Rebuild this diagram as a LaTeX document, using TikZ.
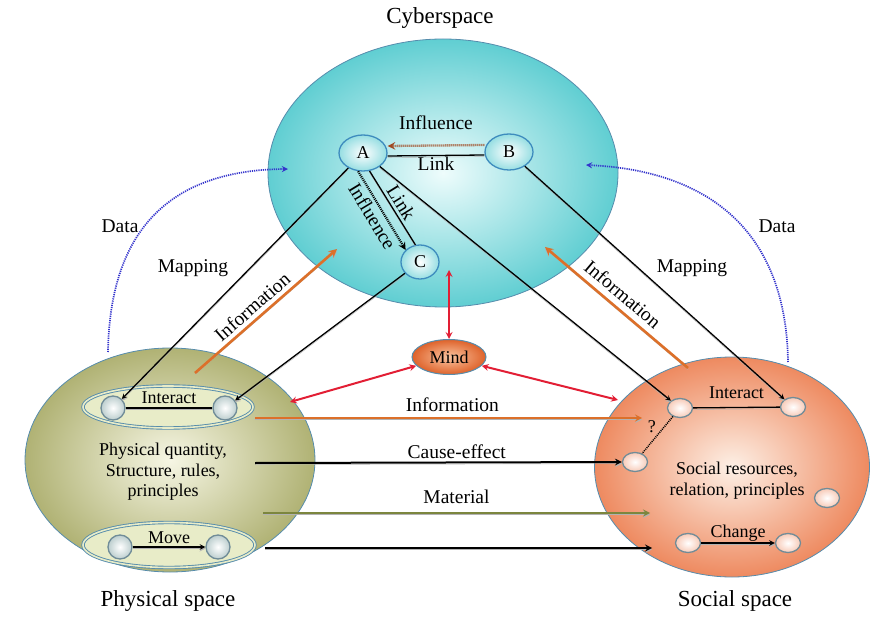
\documentclass[tikz,border=0pt]{standalone}
\usepackage{fontspec}
\setmainfont{Liberation Serif}
\usetikzlibrary{shapes.geometric}

\definecolor{rimblue}{RGB}{86,140,172}
\definecolor{cybin}{RGB}{238,252,252}
\definecolor{cybout}{RGB}{96,206,210}
\definecolor{physin}{RGB}{246,246,228}
\definecolor{physout}{RGB}{176,178,116}
\definecolor{socin}{RGB}{253,240,230}
\definecolor{socout}{RGB}{238,138,96}
\definecolor{agentout}{RGB}{150,222,226}
\definecolor{agentrim}{RGB}{62,140,190}
\definecolor{ballout}{RGB}{188,206,206}
\definecolor{ballrim}{RGB}{112,140,152}
\definecolor{mindin}{RGB}{250,196,160}
\definecolor{mindout}{RGB}{222,98,42}
\definecolor{infoorange}{RGB}{220,112,42}
\definecolor{matgreen}{RGB}{124,134,62}
\definecolor{mindred}{RGB}{226,30,52}
\definecolor{datablue}{RGB}{52,52,204}
\definecolor{inflbrown}{RGB}{160,72,32}
\definecolor{ovalfill}{RGB}{232,236,200}

\tikzset{
	realm/.style={ellipse, draw=rimblue, line width=0.8pt, inner sep=0pt},
	agent/.style={ellipse, draw=agentrim, line width=1.3pt, inner color=white, outer color=agentout, inner sep=0pt, minimum width=48pt, minimum height=36pt, font=\fontsize{18}{18}\selectfont},
	pball/.style={circle, draw=ballrim, line width=1.3pt, inner color=white, outer color=ballout, minimum size=24pt, inner sep=0pt},
	sball/.style={ellipse, draw=ballrim, line width=1.3pt, inner color=white, outer color=socout!45, minimum width=25pt, minimum height=19pt, inner sep=0pt},
	oval/.style={ellipse, draw=rimblue, double=ovalfill, double distance=1.6pt, line width=0.9pt, fill=ovalfill, inner sep=0pt},
	shadowed/.style={preaction={draw=black!30, transform canvas={yshift=-1.6pt}}},
	mapping/.style={->, line width=1.3pt, shadowed},
	flow/.style={->, line width=2pt, shadowed},
	infoarrow/.style={->, line width=2.6pt, draw=infoorange, shadowed},
	mindlink/.style={<->, line width=2pt, draw=mindred},
	datalink/.style={->, line width=1.7pt, draw=datablue, dash pattern=on 1.2pt off 1pt},
	inflink/.style={->, line width=2.3pt, dash pattern=on 1pt off 1pt},
	lbl/.style={font=\fontsize{19.5}{21}\selectfont, inner sep=1pt},
	inlbl/.style={font=\fontsize{18}{20.5}\selectfont, inner sep=1pt, align=center},
	title/.style={font=\fontsize{23}{23}\selectfont, inner sep=1pt}
}

\begin{document}
\begin{tikzpicture}[x=1pt,y=-1pt,>=stealth]

	\useasboundingbox (0,0) rectangle (872,617);

%The three spaces
	\node[realm, minimum width=350pt, minimum height=268pt, inner color=cybin, outer color=cybout] (cyber) at (443,173) {};
	\node[realm, minimum width=290pt, minimum height=224pt, inner color=physin, outer color=physout] (phys) at (170,460) {};
	\node[realm, minimum width=275pt, minimum height=220pt, inner color=socin, outer color=socout] (soc) at (732,467) {};

	\node[title] (cybtitle) at (440,18) {Cyberspace};
	\node[title] (phystitle) at (168,601) {Physical space};
	\node[title] (soctitle) at (735,601) {Social space};

%Agents in cyberspace and the mind
	\node[agent] (A) at (363,153) {A};
	\node[agent] (B) at (509,152) {B};
	\node[agent, minimum width=38pt, minimum height=34pt] (C) at (420,262) {C};
	\node[ellipse, draw=rimblue, line width=1pt, inner color=mindin, outer color=mindout, minimum width=74pt, minimum height=35pt, inner sep=0pt, font=\fontsize{18}{18}\selectfont] (mind) at (449,357) {Mind};

%Objects in the physical space
	\node[oval, minimum width=170pt, minimum height=42pt] (pint) at (168,407) {};
	\node[oval, minimum width=172pt, minimum height=45pt] (pmove) at (169,545) {};
	\node[pball] (pl) at (113,408) {};
	\node[pball] (pr) at (225,408) {};
	\node[pball] (pm1) at (120,547) {};
	\node[pball] (pm2) at (218,547) {};
	\node[inlbl] (phystext) at (163,472) {Physical quantity,\\Structure, rules,\\principles};

%Objects in the social space
	\node[sball] (sl) at (680,408) {};
	\node[sball] (sr) at (793,407) {};
	\node[sball] (sq) at (635,462) {};
	\node[sball] (sx) at (827,498) {};
	\node[sball] (sc1) at (688,543) {};
	\node[sball] (sc2) at (788,543) {};
	\node[inlbl, text depth=0pt] (soctext) at (737,479) {Social resources,\\relation, principles};

%Free ends of the connectors
	\coordinate (mcyb) at (449,270);
	\coordinate (mphys) at (290,402);
	\coordinate (msoc) at (618,400);
	\coordinate (dphys) at (108,352);
	\coordinate (dcyl) at (288,169);
	\coordinate (dsoc) at (788,362);
	\coordinate (dcyr) at (586,165);
	\coordinate (pinfo0) at (195,373);
	\coordinate (pinfo1) at (337,249);
	\coordinate (sinfo0) at (688,368);
	\coordinate (sinfo1) at (545,247);
	\coordinate (hinfo0) at (255,418);
	\coordinate (hinfo1) at (642,418);
	\coordinate (hcause0) at (255,463);
	\coordinate (hmat0) at (263,513);
	\coordinate (hmat1) at (650,513);
	\coordinate (hchg0) at (265,548);
	\coordinate (hchg1) at (652,548);

%Links and influences between the agents
	\draw[inflink, draw=inflbrown] ([yshift=7pt]B.west) -- node[lbl, above=14pt] {Influence} ([yshift=7pt]A.east);
	\draw[line width=1.3pt, shadowed] ([yshift=-3pt]A.east) -- node[lbl, below=0pt] {Link} ([yshift=-3pt]B.west);
	\draw[inflink] (A.255) -- node[lbl, sloped, below=2pt] {Influence} (C.140);
	\draw[line width=1.3pt, shadowed] (A.290) -- node[lbl, sloped, above=2pt] {Link} (C.105);

%Mapping between cyberspace and the other spaces
	\draw[mapping] (A) -- (pl);
	\draw[mapping] (C) -- (pr);
	\draw[mapping] (A) -- (sl);
	\draw[mapping] (B) -- (sr);
	\node[lbl] (mapl) at (193,268) {Mapping};
	\node[lbl] (mapr) at (692,268) {Mapping};

%Data and information going into cyberspace
	\draw[datalink] (dphys) .. controls (110,220) and (180,170) .. (dcyl);
	\draw[datalink] (dsoc) .. controls (786,220) and (696,170) .. (dcyr);
	\node[lbl] (datal) at (120,226) {Data};
	\node[lbl] (datar) at (777,226) {Data};
	\draw[infoarrow] (pinfo0) -- node[lbl, sloped, above=3pt, pos=0.46] {Information} (pinfo1);
	\draw[infoarrow] (sinfo0) -- node[lbl, sloped, above=5pt, pos=0.52] {Information} (sinfo1);

%The mind
	\draw[mindlink] (mind.north) -- (mcyb);
	\draw[mindlink] (mind.195) -- (mphys);
	\draw[mindlink] (mind.345) -- (msoc);

%Flows from the physical space to the social space
	\draw[flow, draw=infoorange] (hinfo0) -- node[lbl, above=4pt, pos=0.51] {Information} (hinfo1);
	\draw[flow] (hcause0) -- node[lbl, above=2pt, pos=0.55] {Cause-effect} (sq);
	\draw[flow, draw=matgreen] (hmat0) -- node[lbl, above=7pt, pos=0.5] {Material} (hmat1);
	\draw[flow] (hchg0) -- (hchg1);

%Relations inside the physical and social spaces
	\draw[line width=1.3pt, shadowed] (pl) -- node[inlbl, above=3pt] {Interact} (pr);
	\draw[flow, line width=1.5pt] (pm1) -- node[inlbl, above=2pt] {Move} (pm2);
	\draw[line width=1.3pt, shadowed] (sl) -- node[inlbl, above=7pt] {Interact} (sr);
	\draw[line width=1.5pt, dash pattern=on 1pt off 1pt] (sl) -- node[inlbl, above left=0pt] {?} (sq);
	\draw[flow, line width=1.5pt] (sc1) -- node[inlbl, above=0pt] {Change} (sc2);

\end{tikzpicture}
\end{document}
